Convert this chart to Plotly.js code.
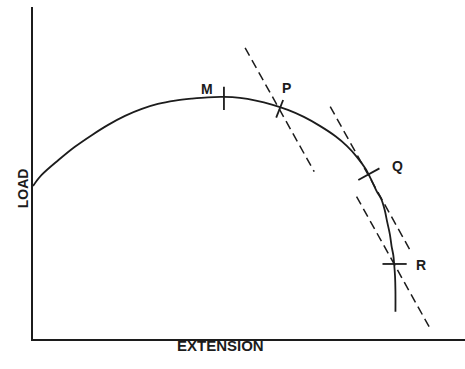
<!DOCTYPE html>
<html>
<head>
<meta charset="utf-8">
<script src="https://cdn.plot.ly/plotly-3.0.1.min.js"></script>
<style>html,body{margin:0;padding:0;background:#fff;}#chart{width:465px;height:369px;}</style>
</head>
<body>
<div id="chart"></div>
<script>
// Load–extension curve (arbitrary units)
var curveX = [0.00, 0.20, 0.59, 0.97, 1.36, 1.74, 2.13, 2.52, 2.89, 3.29, 3.68, 4.05, 4.42, 4.79, 5.16, 5.53, 5.90, 6.27, 6.64, 7.01, 7.27, 7.50, 7.69, 7.84, 7.96, 8.06, 8.14, 8.20, 8.26, 8.30, 8.34, 8.36, 8.38, 8.39, 8.39];
var curveY = [4.61, 4.94, 5.39, 5.79, 6.14, 6.45, 6.72, 6.93, 7.08, 7.18, 7.24, 7.28, 7.29, 7.26, 7.18, 7.06, 6.90, 6.69, 6.42, 6.10, 5.81, 5.48, 5.14, 4.77, 4.44, 4.22, 3.89, 3.52, 3.16, 2.80, 2.53, 2.26, 1.90, 1.42, 0.82];

// Short marker strokes across the curve at M, P, Q, R
var tickNames = ["M", "P", "Q", "R"];
var tickX = [[4.42, 4.42], [5.79, 5.63], [7.53, 8.02], [8.09, 8.65]];
var tickY = [[7.60, 6.90], [7.20, 6.67], [4.79, 5.14], [2.26, 2.26]];

// Dashed tangent/secant lines
var dashX = [[4.91, 6.51], [6.88, 8.77], [7.49, 9.19]];
var dashY = [[8.77, 5.04], [7.00, 2.58], [4.29, 0.32]];

// Point labels
var labelText = ["M", "P", "Q", "R"];
var labelX = [4.03, 5.86, 8.43, 8.98];
var labelY = [7.53, 7.56, 5.21, 2.23];

var xTitle = "EXTENSION";
var yTitle = "LOAD";

var ink = "#1c1c1c";
var fam = "Liberation Sans, Arial, sans-serif";
var traces = [];
traces.push({x: curveX, y: curveY, mode: "lines", type: "scatter",
  line: {color: ink, width: 1.8, shape: "spline", smoothing: 1},
  hoverinfo: "skip", cliponaxis: false});
for (var i = 0; i < tickX.length; i++) {
  traces.push({x: tickX[i], y: tickY[i], mode: "lines", type: "scatter",
    name: tickNames[i], line: {color: ink, width: 1.8}, hoverinfo: "skip"});
}
for (var j = 0; j < dashX.length; j++) {
  traces.push({x: dashX[j], y: dashY[j], mode: "lines", type: "scatter",
    line: {color: ink, width: 1.5, dash: "9px,5px"}, hoverinfo: "skip"});
}

var annotations = [];
for (var k = 0; k < labelText.length; k++) {
  annotations.push({x: labelX[k], y: labelY[k], xref: "x", yref: "y",
    text: labelText[k], showarrow: false,
    font: {family: fam, size: 14, color: ink, weight: "bold"}});
}
annotations.push({x: 0.433, y: -0.051, xref: "paper", yref: "paper", text: xTitle,
  showarrow: false, font: {family: fam, size: 15, color: ink, weight: "bold"}});
annotations.push({x: -0.0456, y: 0.455, xref: "paper", yref: "paper", text: yTitle,
  textangle: -90, showarrow: false,
  font: {family: fam, size: 14, color: ink, weight: "bold"}});

var layout = {
  width: 465, height: 369,
  margin: {l: 33, r: 0, t: 7, b: 30, pad: 0},
  paper_bgcolor: "#ffffff", plot_bgcolor: "#ffffff",
  showlegend: false,
  xaxis: {range: [0, 10], showline: true, linecolor: ink, linewidth: 2,
    showgrid: false, zeroline: false, showticklabels: false, ticks: "", fixedrange: true},
  yaxis: {range: [0, 10], showline: true, linecolor: ink, linewidth: 2,
    showgrid: false, zeroline: false, showticklabels: false, ticks: "", fixedrange: true},
  annotations: annotations
};

Plotly.newPlot("chart", traces, layout, {staticPlot: true, displayModeBar: false});
</script>
</body>
</html>
